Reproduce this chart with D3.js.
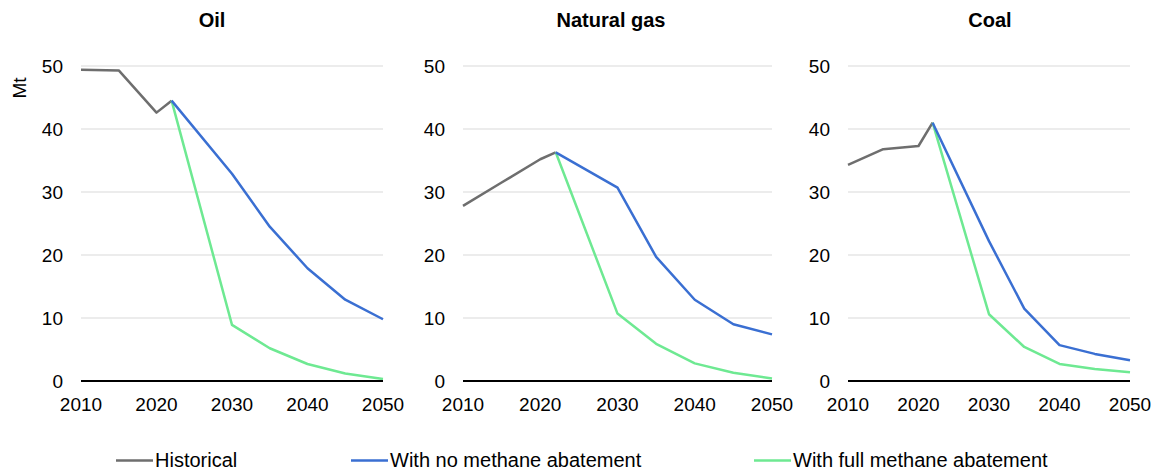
<!DOCTYPE html>
<html><head><meta charset="utf-8">
<script src="https://cdn.jsdelivr.net/npm/d3@7"></script>
<style>
html,body{margin:0;padding:0;background:#fff;}
svg text{font-family:"Liberation Sans",Arial,sans-serif;fill:#000;}
</style></head>
<body><svg id="chart" width="1158" height="470"></svg>
<script>
const panels = ["Oil", "Natural gas", "Coal"];
const histYears = [2010, 2015, 2020, 2022];
const projYears = [2022, 2030, 2035, 2040, 2045, 2050];
const oilHist = [49.4, 49.3, 42.6, 44.5];
const oilNoAbate = [44.5, 32.9, 24.5, 17.9, 12.9, 9.8];
const oilFullAbate = [44.5, 8.9, 5.2, 2.7, 1.2, 0.3];
const gasHist = [27.8, 31.5, 35.2, 36.3];
const gasNoAbate = [36.3, 30.7, 19.7, 12.9, 9.0, 7.4];
const gasFullAbate = [36.3, 10.7, 5.9, 2.8, 1.3, 0.4];
const coalHist = [34.3, 36.8, 37.3, 41.0];
const coalNoAbate = [41.0, 22.2, 11.5, 5.7, 4.3, 3.3];
const coalFullAbate = [41.0, 10.6, 5.4, 2.7, 1.9, 1.4];
const yTicks = [0, 10, 20, 30, 40, 50];
const xTicks = [2010, 2020, 2030, 2040, 2050];
const seriesNames = ["Historical", "With no methane abatement", "With full methane abatement"];

const colors = ["#6e6e6e", "#3a6fd2", "#6ee992"];
const panelData = [
  [oilHist, oilNoAbate, oilFullAbate],
  [gasHist, gasNoAbate, gasFullAbate],
  [coalHist, coalNoAbate, coalFullAbate]
];
const layout = [
  {x0: 81, x1: 383, titleX: 212},
  {x0: 463, x1: 772, titleX: 611},
  {x0: 848, x1: 1130, titleX: 990}
];
const yTop = 66, yBot = 381;

const svg = d3.select("#chart");
const y = d3.scaleLinear().domain([0, 50]).range([yBot, yTop]);

panels.forEach((name, i) => {
  const L = layout[i];
  const x = d3.scaleLinear().domain([2010, 2050]).range([L.x0, L.x1]);
  const g = svg.append("g");
  g.selectAll("line.grid").data(yTicks.filter(t => t > 0)).enter().append("line")
    .attr("x1", L.x0).attr("x2", L.x1)
    .attr("y1", d => y(d)).attr("y2", d => y(d))
    .attr("stroke", "#d9d9d9").attr("stroke-width", 1);
  g.selectAll("text.yl").data(yTicks).enter().append("text")
    .attr("x", L.x0 - 18).attr("y", d => y(d) + 6.5)
    .attr("text-anchor", "end").attr("font-size", 19).text(d => d);
  g.selectAll("text.xl").data(xTicks).enter().append("text")
    .attr("x", d => x(d)).attr("y", 411)
    .attr("text-anchor", "middle").attr("font-size", 19).text(d => d);
  g.append("text").attr("x", L.titleX).attr("y", 27)
    .attr("text-anchor", "middle").attr("font-size", 20).attr("font-weight", "bold").text(name);
  const d = panelData[i];
  const line = d3.line();
  const sets = [
    histYears.map((yr, k) => [x(yr), y(d[0][k])]),
    projYears.map((yr, k) => [x(yr), y(d[1][k])]),
    projYears.map((yr, k) => [x(yr), y(d[2][k])])
  ];
  [0, 2, 1].forEach(s => {
    g.append("path").attr("d", line(sets[s])).attr("fill", "none")
      .attr("stroke", colors[s]).attr("stroke-width", 2.5)
      .attr("stroke-linejoin", "round");
  });
  g.append("line").attr("x1", L.x0).attr("x2", L.x1)
    .attr("y1", y(0)).attr("y2", y(0)).attr("stroke", "#000").attr("stroke-width", 1.8);
});

svg.append("text").attr("transform", "translate(26,88) rotate(-90)")
  .attr("text-anchor", "middle").attr("font-size", 19).text("Mt");

const legendX = [116, 351, 754];
seriesNames.forEach((n, i) => {
  const lg = svg.append("g");
  lg.append("line").attr("x1", legendX[i]).attr("x2", legendX[i] + 37)
    .attr("y1", 460.5).attr("y2", 460.5).attr("stroke", colors[i]).attr("stroke-width", 2.5);
  lg.append("text").attr("x", legendX[i] + 39).attr("y", 467)
    .attr("font-size", 20).text(n);
});
</script></body></html>
